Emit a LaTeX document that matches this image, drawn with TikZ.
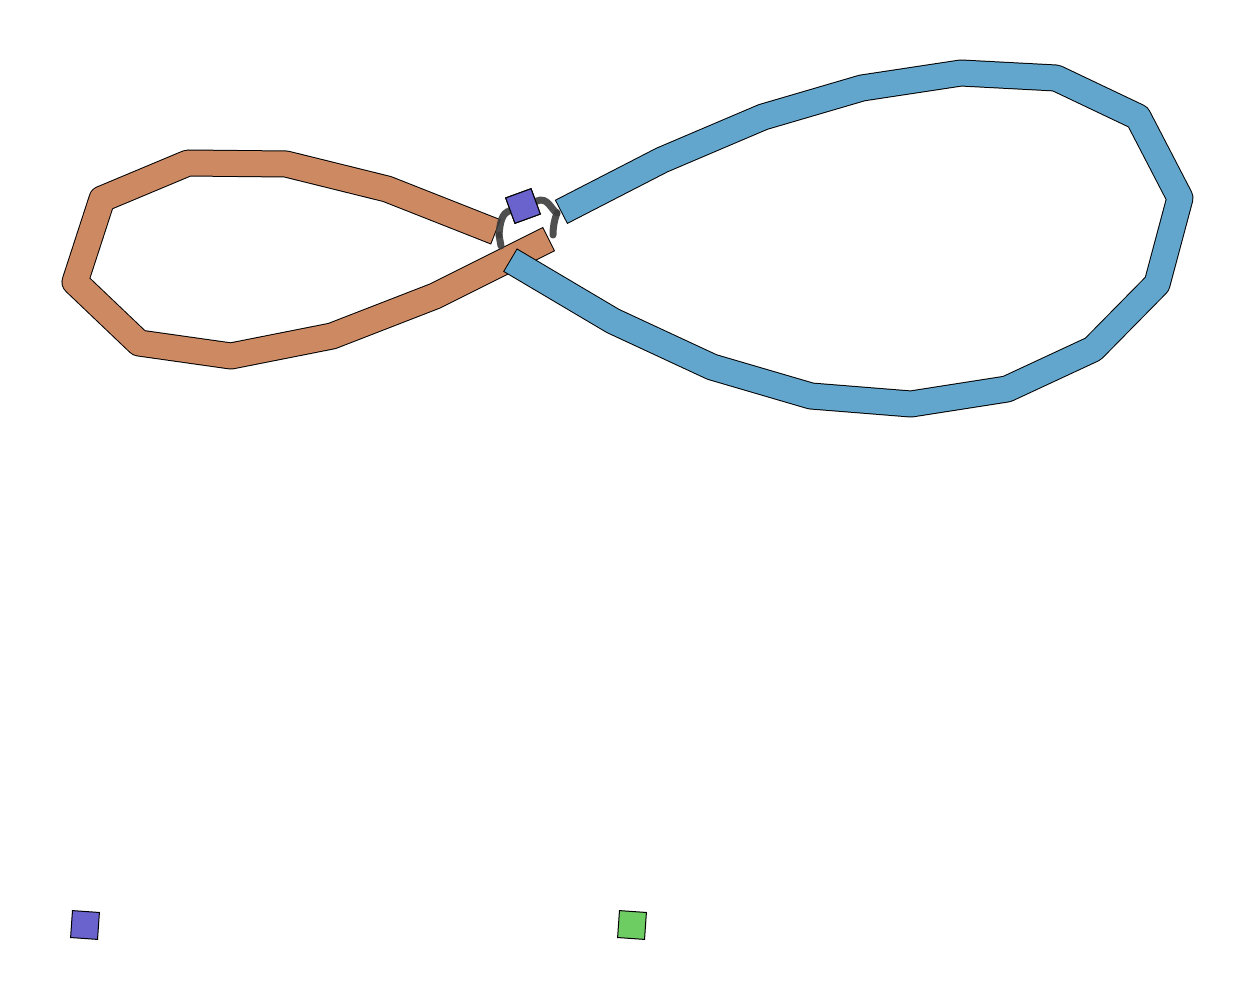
\documentclass[tikz,border=0pt]{standalone}
\definecolor{bandorange}{RGB}{205,137,98}
\definecolor{bandblue}{RGB}{98,166,205}
\definecolor{sqpurple}{RGB}{106,98,205}
\definecolor{sqgreen}{RGB}{110,205,98}
\definecolor{conngrey}{RGB}{60,60,60}
\tikzset{
  bandout/.style={line width=27pt, black, line join=round, line cap=butt},
  bandin/.style={line width=25pt, line join=round, line cap=butt, shorten <=1pt, shorten >=1pt},
  sqbox/.style={draw=black, line width=1pt, minimum size=27pt, inner sep=0pt},
  conn/.style={conngrey, line width=7pt, opacity=0.9, line cap=round}
}
\begin{document}
\begin{tikzpicture}[x=1pt,y=-1pt]
\useasboundingbox (0,0) rectangle (1253,1000);
% orange loop coordinates
\coordinate (o0) at (496,232);
\coordinate (o1) at (387,189);
\coordinate (o2) at (286,164);
\coordinate (o3) at (188,163);
\coordinate (o4) at (102,199);
\coordinate (o5) at (75,282);
\coordinate (o6) at (139,343);
\coordinate (o7) at (231,356);
\coordinate (o8) at (332,336);
\coordinate (o9) at (435,296);
\coordinate (o10) at (549,239);
% blue loop coordinates
\coordinate (b0) at (561,212);
\coordinate (b1) at (662,160);
\coordinate (b2) at (763,117);
\coordinate (b3) at (862,88);
\coordinate (b4) at (961,73);
\coordinate (b5) at (1056,78);
\coordinate (b6) at (1138,117);
\coordinate (b7) at (1180,198);
\coordinate (b8) at (1157,284);
\coordinate (b9) at (1093,349);
\coordinate (b10) at (1007,389);
\coordinate (b11) at (911,404);
\coordinate (b12) at (811,396);
\coordinate (b13) at (712,367);
\coordinate (b14) at (613,321);
\coordinate (b15) at (510,260);
% orange band
\draw[bandout] (o0) -- (o1) -- (o2) -- (o3) -- (o4) -- (o5) -- (o6) -- (o7) -- (o8) -- (o9) -- (o10);
\draw[bandin, bandorange] (o0) -- (o1) -- (o2) -- (o3) -- (o4) -- (o5) -- (o6) -- (o7) -- (o8) -- (o9) -- (o10);
% blue band
\draw[bandout] (b0) -- (b1) -- (b2) -- (b3) -- (b4) -- (b5) -- (b6) -- (b7) -- (b8) -- (b9) -- (b10) -- (b11) -- (b12) -- (b13) -- (b14) -- (b15);
\draw[bandin, bandblue] (b0) -- (b1) -- (b2) -- (b3) -- (b4) -- (b5) -- (b6) -- (b7) -- (b8) -- (b9) -- (b10) -- (b11) -- (b12) -- (b13) -- (b14) -- (b15);
% connector end points
\coordinate (oe) at (499,235);
\coordinate (ol) at (501,246);
\coordinate (be) at (557,213);
\coordinate (bl) at (553,235);
% central square
\node[sqbox, fill=sqpurple, rotate=20] (sq) at (523,206) {};
\draw[conn] (sq.west) .. controls (502,213) and (500,222) .. (oe);
\draw[conn] (oe) -- (ol);
\draw[conn] (sq.east) .. controls (548,196) and (551,210) .. (be);
\draw[conn] (be) .. controls (554,221) and (553,228) .. (bl);
% square drawn again on top of the connectors
\node[sqbox, fill=sqpurple, rotate=20] (sqtop) at (523,206) {};
% legend squares
\node[sqbox, fill=sqpurple, rotate=-4] (legp) at (85,925) {};
\node[sqbox, fill=sqgreen, rotate=-4] (legg) at (632,925) {};
\end{tikzpicture}
\end{document}
